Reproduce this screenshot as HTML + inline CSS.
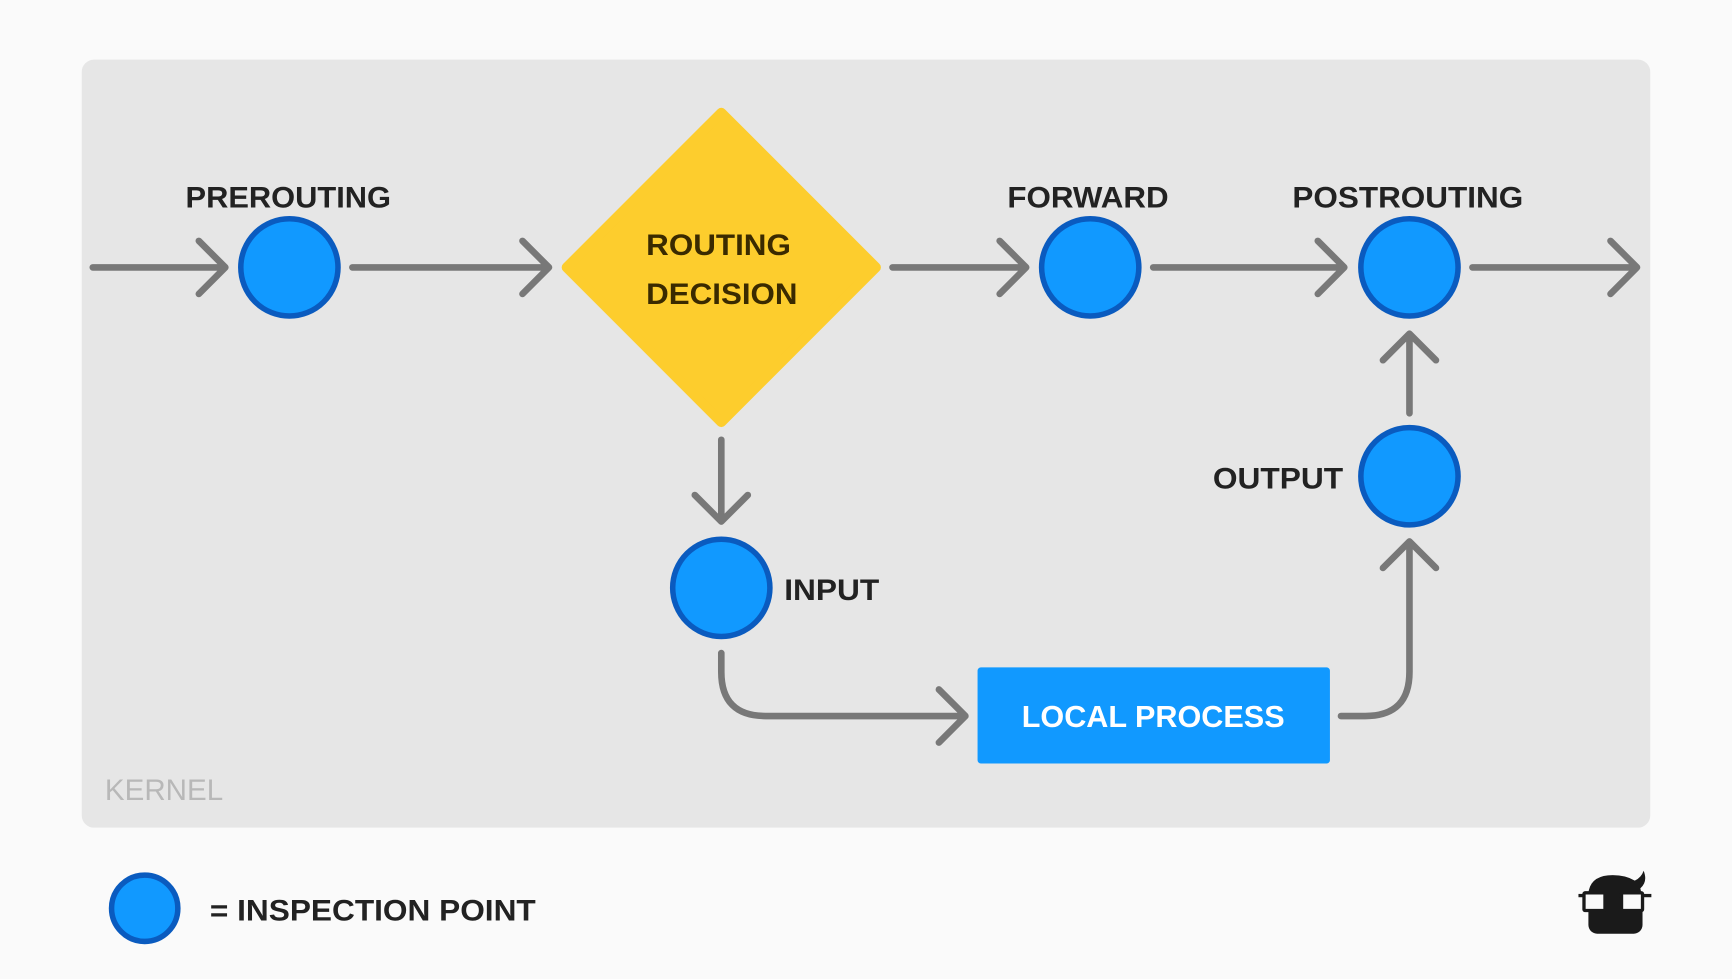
<!DOCTYPE html>
<html><head><meta charset="utf-8"><style>
html,body{margin:0;padding:0;background:#fafafa;}
svg{display:block;}
text{font-family:"Liberation Sans",sans-serif;font-weight:bold;}
</style></head><body>
<svg width="1732" height="979" viewBox="0 0 1568 886" preserveAspectRatio="none" xmlns="http://www.w3.org/2000/svg">
<rect x="0" y="0" width="1568" height="886" fill="#fafafa"/>
<rect x="74" y="54" width="1420" height="695" rx="11" fill="#e6e6e6"/>
<g stroke="#787878" stroke-width="6" fill="none" stroke-linecap="round" stroke-linejoin="round">
<path d="M84 242H204M180 218L204 242L180 266"/>
<path d="M319 242H497M473 218L497 242L473 266"/>
<path d="M808 242H929M905 218L929 242L905 266"/>
<path d="M1044 242H1217M1193 218L1217 242L1193 266"/>
<path d="M1333 242H1482M1458 218L1482 242L1458 266"/>
<path d="M653 398V472M629 448L653 472L677 448"/>
<path d="M1276 374V302M1252 326L1276 302L1300 326"/>
<path d="M653 591V608Q653 648 693 648H874M850 624L874 648L850 672"/>
<path d="M1214 648H1236Q1276 648 1276 608V490M1252 514L1276 490L1300 514"/>
</g>
<polygon points="653,102 793,242 653,382 513,242" fill="#fdcd2d" stroke="#fdcd2d" stroke-width="9" stroke-linejoin="round"/>
<g fill="#1199ff" stroke="#0a5bbf" stroke-width="5">
<circle cx="262" cy="242" r="44"/>
<circle cx="987" cy="242" r="44"/>
<circle cx="1276" cy="242" r="44"/>
<circle cx="653" cy="532" r="44"/>
<circle cx="1276" cy="431" r="44"/>
<circle cx="131" cy="822" r="30"/>
</g>
<rect x="885" y="604" width="319" height="87" rx="3" fill="#1199ff"/>
<g font-size="27" fill="#222" lengthAdjust="spacingAndGlyphs">
<text x="168" y="188" textLength="186" lengthAdjust="spacingAndGlyphs">PREROUTING</text>
<text x="912" y="188" textLength="146" lengthAdjust="spacingAndGlyphs">FORWARD</text>
<text x="1170" y="188" textLength="209" lengthAdjust="spacingAndGlyphs">POSTROUTING</text>
<text x="1098" y="442" textLength="118" lengthAdjust="spacingAndGlyphs">OUTPUT</text>
<text x="710" y="543" textLength="86" lengthAdjust="spacingAndGlyphs">INPUT</text>
<text x="190" y="833" textLength="295" lengthAdjust="spacingAndGlyphs">= INSPECTION POINT</text>
</g>
<g font-size="27" fill="#3a2a00">
<text x="585" y="231" textLength="131" lengthAdjust="spacingAndGlyphs">ROUTING</text>
<text x="585" y="275" textLength="137" lengthAdjust="spacingAndGlyphs">DECISION</text>
</g>
<text x="925" y="658" font-size="28" fill="#fff" textLength="238" lengthAdjust="spacingAndGlyphs">LOCAL PROCESS</text>
<text x="95" y="724" font-size="27" fill="#b8b8b8" style="font-weight:normal" textLength="107" lengthAdjust="spacingAndGlyphs">KERNEL</text>
<g fill="#1a1a1a">
<path d="M1438 808Q1440 792 1460 792Q1472 792 1480 797Q1486 794 1488 788Q1492 798 1485 804L1486 808H1438Z"/>
<rect x="1438" y="805" width="49" height="40" rx="8"/>
<rect x="1429" y="809" width="66" height="3"/>
</g>
<g fill="#fafafa">
<rect x="1434" y="808" width="19" height="16" rx="1"/>
<rect x="1468" y="808" width="19" height="16" rx="1"/>
</g>
<g fill="none" stroke="#1a1a1a" stroke-width="3">
<rect x="1434" y="808" width="19" height="16" rx="1"/>
<rect x="1468" y="808" width="19" height="16" rx="1"/>
</g>
</svg>
</body></html>
